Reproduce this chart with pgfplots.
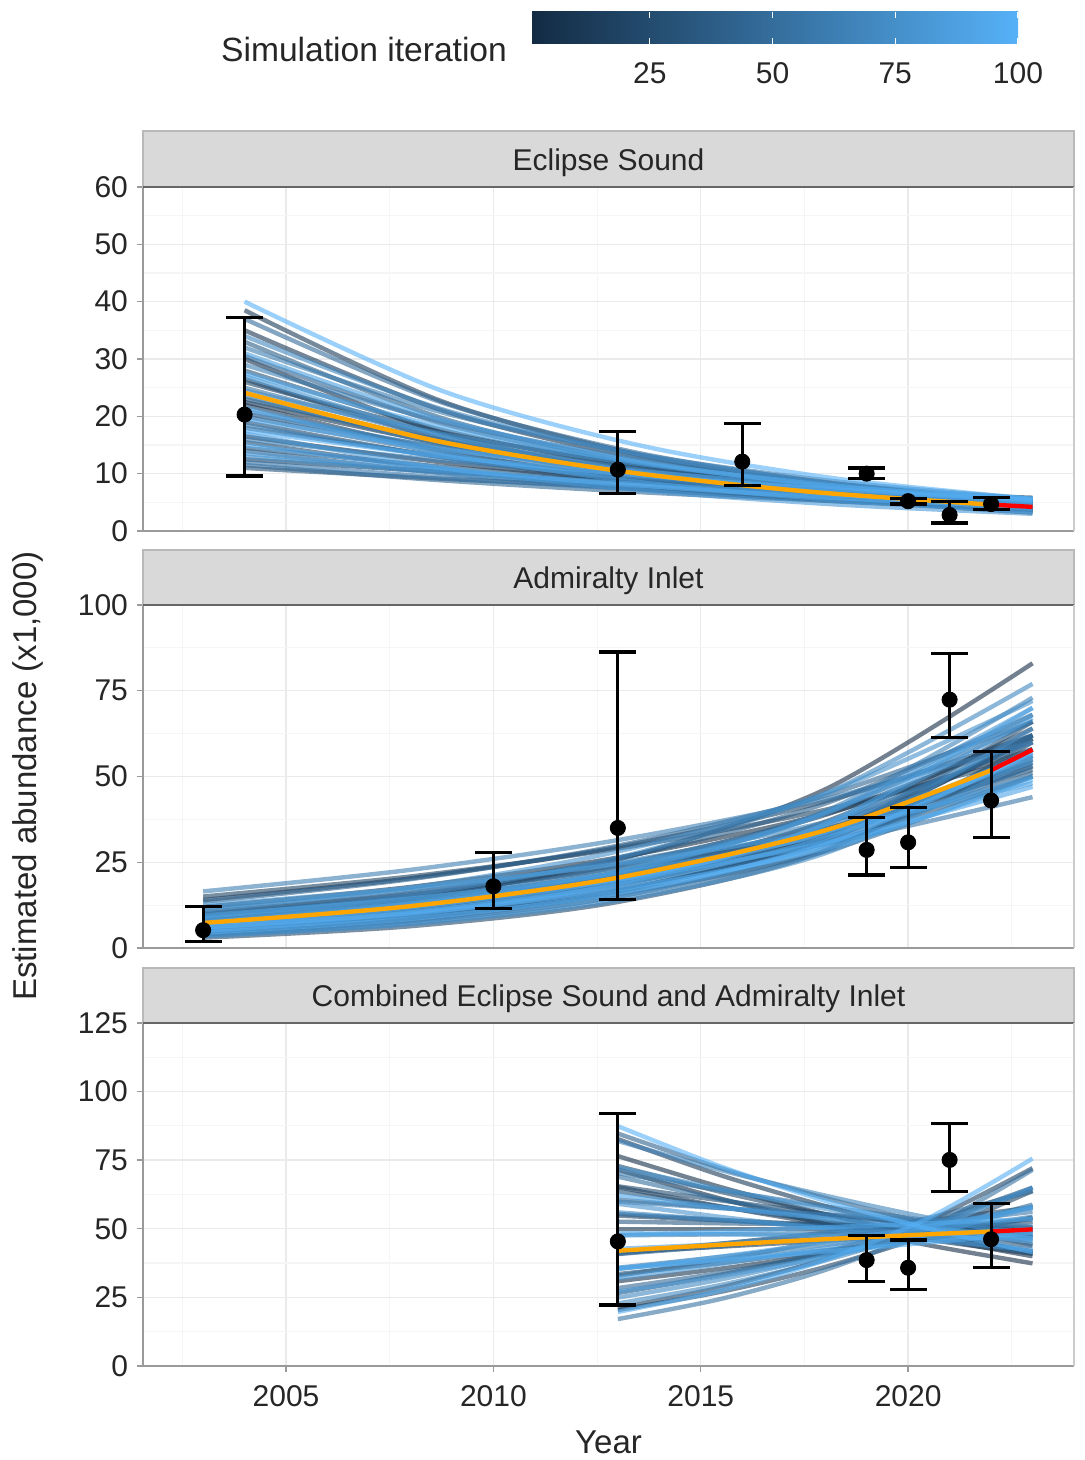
\documentclass[border=0pt]{standalone}
\usepackage{pgfplots}
\pgfplotsset{compat=1.18}
\usepackage{fontspec}
\setmainfont{Liberation Sans}
\definecolor{simlo}{HTML}{132B43}
\definecolor{simhi}{HTML}{56B1F7}
\definecolor{meanc}{HTML}{FFA500}
\definecolor{projc}{HTML}{FF0000}
\definecolor{stripfill}{HTML}{D9D9D9}
\definecolor{gmaj}{HTML}{EAEAEA}
\definecolor{gmin}{HTML}{F5F5F5}
\definecolor{axc}{HTML}{9A9A9A}
\pgfplotsset{
 sim/.style={no markers, smooth, line width=2.2pt, draw opacity=0.6, color=simhi!#1!simlo},
 meanline/.style={no markers, smooth, line width=2.2pt, color=meanc},
 projline/.style={no markers, line width=2.2pt, color=projc},
 obs/.style={only marks, mark=*, mark size=3.8pt, black, mark options={fill=black, draw=black},
   error bars/.cd, y dir=both, y explicit, error mark=none,
   error bar style={line width=1.5pt, black}},
 caps/.style={only marks, mark=-, mark size=9.25pt, black, line width=1.6pt, mark options={line width=1.6pt, black}},
 panel/.style={
   scale only axis, width=465.5pt,
   xmin=2001.55, xmax=2024, ymin=0,
   axis x line*=bottom, axis y line*=left,
   axis line style={axc, line width=0.8pt, -},
   xtick={2005,2010,2015,2020},
   minor xtick={2002.5,2007.5,2012.5,2017.5,2022.5},
   grid=both,
   major grid style={gmaj, line width=0.7pt},
   minor grid style={gmin, line width=0.6pt},
   tick align=outside, major tick length=3pt, minor tick length=0pt,
   tick style={axc, line width=0.7pt},
   tick label style={font=\fontsize{15}{15}\selectfont, text=black!85},
   /pgf/number format/assume math mode=true,
   /pgf/number format/1000 sep={},
   yticklabel style={xshift=-1pt},
 },
 upper/.style={xticklabels={}, xtick style={draw=none}},
}
% one simulated trajectory = iteration, then five values
\newcommand{\ES}[6]{\addplot[sim=#1] coordinates {(2004,#2)(2008.75,#3)(2013.5,#4)(2018.25,#5)(2023,#6)};}
\newcommand{\AI}[6]{\addplot[sim=#1] coordinates {(2003,#2)(2008,#3)(2013,#4)(2018,#5)(2023,#6)};}
\newcommand{\CB}[6]{\addplot[sim=#1] coordinates {(2013,#2)(2015.5,#3)(2018,#4)(2020.5,#5)(2023,#6)};}
\begin{document}
\begin{tikzpicture}
\useasboundingbox (0,0) rectangle (542pt,730pt);

% ---------- colour bar legend ----------
\shade[left color=simlo, right color=simhi] (266pt,708pt) rectangle (509pt,724pt);
\foreach \xx in {324.9,386.3,447.6,508.6}{
  \draw[white, line width=0.6pt] (\xx pt,708pt) -- ++(0,3.2pt);
  \draw[white, line width=0.6pt] (\xx pt,724pt) -- ++(0,-3.2pt);
}
\node[anchor=east, font=\fontsize{16.8}{16.8}\selectfont, text=black!85] at (257pt,705pt) {Simulation iteration};
\foreach \xx/\lab in {324.9/25,386.3/50,447.6/75,509/100}{
  \node[font=\fontsize{15}{15}\selectfont, text=black!85] at (\xx pt,693.5pt) {\lab};
}

% ---------- Eclipse Sound ----------
\begin{axis}[panel, upper, at={(71.5pt,464.5pt)}, anchor=south west, height=172pt,
  ymax=60, ytick={0,10,...,60}, minor ytick={5,15,...,55}]
\ES{1}{30}{17.15}{9.80}{5.60}{3.2}
\ES{3}{16.5}{11.99}{8.71}{6.33}{4.6}
\ES{6}{22.5}{15.29}{10.39}{7.06}{4.8}
\ES{8}{35}{21.07}{12.69}{7.64}{4.6}
\ES{10}{22}{13.99}{8.90}{5.66}{3.6}
\ES{12}{38.5}{22.64}{13.31}{7.82}{4.6}
\ES{15}{12.5}{10.32}{8.51}{7.03}{5.8}
\ES{17}{26}{17.22}{11.40}{7.55}{5.0}
\ES{19}{15.5}{10.76}{7.47}{5.19}{3.6}
\ES{21}{19}{12.87}{8.72}{5.91}{4.0}
\ES{24}{14.5}{11.22}{8.68}{6.72}{5.2}
\ES{26}{26.5}{16.09}{9.77}{5.93}{3.6}
\ES{28}{28}{17.63}{11.10}{6.99}{4.4}
\ES{30}{11}{9.12}{7.56}{6.27}{5.2}
\ES{33}{20.5}{14.55}{10.32}{7.33}{5.2}
\ES{35}{23}{15.86}{10.94}{7.54}{5.2}
\ES{37}{33}{19.71}{11.77}{7.03}{4.2}
\ES{39}{30.5}{18.79}{11.58}{7.14}{4.4}
\ES{42}{18}{13.07}{9.49}{6.89}{5.0}
\ES{44}{14}{10.10}{7.29}{5.26}{3.8}
\ES{46}{11.5}{8.83}{6.78}{5.21}{4.0}
\ES{48}{37}{22.43}{13.60}{8.25}{5.0}
\ES{51}{20}{13.70}{9.38}{6.42}{4.4}
\ES{53}{23.5}{15.10}{9.70}{6.23}{4.0}
\ES{55}{25}{16.37}{10.72}{7.02}{4.6}
\ES{57}{12}{9.34}{7.27}{5.66}{4.4}
\ES{60}{32}{20.70}{13.39}{8.66}{5.6}
\ES{62}{29}{19.05}{12.51}{8.22}{5.4}
\ES{64}{16}{12.31}{9.47}{7.28}{5.6}
\ES{66}{18.5}{12.92}{9.02}{6.30}{4.4}
\ES{69}{34}{21.26}{13.30}{8.32}{5.2}
\ES{71}{21}{14.52}{10.04}{6.94}{4.8}
\ES{73}{24.5}{16.94}{11.71}{8.10}{5.6}
\ES{75}{13}{10.13}{7.90}{6.16}{4.8}
\ES{78}{27}{16.65}{10.26}{6.33}{3.9}
\ES{80}{13.5}{10.54}{8.22}{6.41}{5.0}
\ES{82}{17}{11.02}{7.14}{4.63}{3.0}
\ES{84}{31}{19.45}{12.20}{7.65}{4.8}
\ES{87}{21.5}{13.56}{8.55}{5.39}{3.4}
\ES{89}{19.5}{14.28}{10.45}{7.65}{5.6}
\ES{91}{24}{15.52}{10.04}{6.49}{4.2}
\ES{93}{27.5}{18.14}{11.96}{7.89}{5.2}
\ES{96}{15}{10.91}{7.94}{5.77}{4.2}
\ES{98}{17.5}{13.04}{9.72}{7.25}{5.4}
\ES{100}{40}{24.47}{14.97}{9.16}{5.6}
\addplot[meanline] coordinates {(2004,24.1)(2008.5,15.9)(2013,10.5)(2017.5,6.93)(2022,4.6)};
\addplot[projline] coordinates {(2022,4.6)(2023,4.2)};
\addplot[obs] coordinates {
 (2004,20.3) += (0,16.9) -= (0,10.7)
 (2013,10.7) += (0,6.6) -= (0,4.1)
 (2016,12.1) += (0,6.6) -= (0,4.2)
 (2019,10.0) += (0,1.0) -= (0,0.9)
 (2020,5.2) += (0,0.5) -= (0,0.5)
 (2021,2.8) += (0,2.3) -= (0,1.4)
 (2022,4.7) += (0,1.1) -= (0,0.9)
};
\addplot[caps] coordinates {(2004,37.2)(2004,9.6)(2013,17.3)(2013,6.6)(2016,18.7)(2016,7.9)(2019,11.0)(2019,9.1)(2020,5.7)(2020,4.7)(2021,5.1)(2021,1.4)(2022,5.8)(2022,3.8)};
\end{axis}

% ---------- Admiralty Inlet ----------
\begin{axis}[panel, upper, at={(71.5pt,256pt)}, anchor=south west, height=171.5pt,
  ymax=100, ytick={0,25,50,75,100}, minor ytick={12.5,37.5,62.5,87.5}]
\AI{1}{8}{14.36}{25.77}{46.25}{83}
\AI{3}{12}{17.79}{26.38}{39.12}{58}
\AI{6}{8}{12.83}{20.59}{33.03}{53}
\AI{8}{4.5}{8.67}{16.70}{32.18}{62}
\AI{10}{9.5}{15.19}{24.27}{38.79}{62}
\AI{12}{5.5}{10.04}{18.32}{33.43}{61}
\AI{15}{7}{12.17}{21.17}{36.81}{64}
\AI{17}{15}{20.85}{28.98}{40.29}{56}
\AI{19}{14}{20.31}{29.46}{42.74}{62}
\AI{21}{3}{6.35}{13.42}{28.38}{60}
\AI{24}{9}{14.09}{22.05}{34.51}{54}
\AI{26}{4}{8.06}{16.25}{32.75}{66}
\AI{28}{6}{10.71}{19.13}{34.16}{61}
\AI{30}{10.5}{15.67}{23.37}{34.86}{52}
\AI{33}{7}{11.45}{18.71}{30.59}{50}
\AI{35}{5}{9.23}{17.03}{31.43}{58}
\AI{37}{7.5}{12.11}{19.56}{31.58}{51}
\AI{39}{10}{16.15}{26.08}{42.11}{68}
\AI{42}{13.5}{20.07}{29.85}{44.39}{66}
\AI{44}{6.5}{11.09}{18.91}{32.25}{55}
\AI{46}{5}{8.89}{15.81}{28.12}{50}
\AI{48}{4}{7.74}{14.97}{28.95}{56}
\AI{51}{8}{13.24}{21.91}{36.26}{60}
\AI{53}{8.5}{14.19}{23.69}{39.54}{66}
\AI{55}{10}{14.48}{20.98}{30.38}{44}
\AI{57}{5.5}{9.69}{17.07}{30.08}{53}
\AI{60}{6.5}{11.42}{20.07}{35.27}{62}
\AI{62}{16.5}{22.78}{31.46}{43.45}{60}
\AI{64}{6.5}{11.90}{21.78}{39.87}{73}
\AI{66}{11.5}{16.93}{24.92}{36.68}{54}
\AI{69}{9}{15.39}{26.32}{45.02}{77}
\AI{71}{3.5}{7.24}{14.97}{30.95}{64}
\AI{73}{3.5}{6.97}{13.87}{27.62}{55}
\AI{75}{11}{17.59}{28.14}{45.01}{72}
\AI{78}{7.5}{13.01}{22.58}{39.18}{68}
\AI{80}{7}{12.45}{22.14}{39.37}{70}
\AI{82}{5.5}{10.28}{19.20}{35.87}{67}
\AI{84}{12.5}{17.50}{24.49}{34.29}{48}
\AI{87}{9.5}{14.39}{21.79}{33.01}{50}
\AI{89}{5}{9.67}{18.71}{36.19}{70}
\AI{91}{8.5}{13.03}{19.99}{30.65}{47}
\AI{93}{6}{10.49}{18.33}{32.04}{56}
\AI{96}{6}{10.14}{17.15}{28.99}{49}
\AI{98}{7}{11.82}{19.97}{33.74}{57}
\AI{100}{4.5}{8.49}{16.02}{30.22}{57}
\addplot[meanline] coordinates {(2003,7.3)(2008,12.2)(2013,20.5)(2018,34.3)(2022,51.8)};
\addplot[projline] coordinates {(2022,51.8)(2023,57.8)};
\addplot[obs] coordinates {
 (2003,5.2) += (0,6.8) -= (0,3.3)
 (2010,18.0) += (0,9.8) -= (0,6.5)
 (2013,35.0) += (0,51.3) -= (0,20.8)
 (2019,28.6) += (0,9.5) -= (0,7.3)
 (2020,30.8) += (0,10.1) -= (0,7.4)
 (2021,72.4) += (0,13.4) -= (0,11.1)
 (2022,43.0) += (0,14.2) -= (0,10.8)
};
\addplot[caps] coordinates {(2003,12.0)(2003,1.9)(2010,27.8)(2010,11.5)(2013,86.3)(2013,14.2)(2019,38.1)(2019,21.3)(2020,40.9)(2020,23.4)(2021,85.8)(2021,61.3)(2022,57.2)(2022,32.2)};
\end{axis}

% ---------- Combined ----------
\begin{axis}[panel, at={(71.5pt,47pt)}, anchor=south west, height=171.5pt,
  ymax=125, ytick={0,25,...,125}, minor ytick={12.5,37.5,62.5,87.5,112.5},
  xticklabel style={yshift=-3pt}]
\CB{1}{71.6}{60.9}{51.8}{44}{37.4}
\CB{3}{76.5}{65.1}{55.3}{47}{40.0}
\CB{5}{50}{50}{50}{50}{50}
\CB{7}{30.9}{35.5}{40.9}{47}{54.1}
\CB{10}{65.2}{58.1}{51.7}{46}{40.9}
\CB{12}{82.7}{69.4}{58.3}{49}{41.2}
\CB{14}{41.5}{43.5}{45.7}{48}{50.4}
\CB{16}{21.1}{28.7}{39.0}{53}{72.1}
\CB{18}{20.4}{27.1}{36.1}{48}{63.8}
\CB{20}{54.8}{53.1}{51.5}{50}{48.5}
\CB{23}{72.9}{63.4}{55.2}{48}{41.8}
\CB{25}{65.5}{60.3}{55.4}{51}{46.9}
\CB{27}{40.9}{44.6}{48.6}{53}{57.8}
\CB{29}{63.7}{58.0}{52.7}{48}{43.7}
\CB{31}{33.5}{37.5}{42.0}{47}{52.6}
\CB{33}{26.6}{33.3}{41.6}{52}{65.0}
\CB{35}{52.6}{52.0}{51.5}{51}{50.5}
\CB{38}{55.4}{53.2}{51.0}{49}{47.0}
\CB{40}{84.7}{72.0}{61.2}{52}{44.2}
\CB{42}{40.8}{43.7}{46.7}{50}{53.5}
\CB{44}{28.4}{34.0}{40.8}{49}{58.8}
\CB{46}{32.9}{38.8}{45.8}{54}{63.7}
\CB{48}{60.6}{57.6}{54.7}{52}{49.4}
\CB{50}{69.0}{60.7}{53.4}{47}{41.4}
\CB{53}{17.1}{24.5}{35.0}{50}{71.5}
\CB{55}{70.3}{64.0}{58.2}{53}{48.2}
\CB{57}{41.3}{44.6}{48.1}{52}{56.2}
\CB{59}{35.8}{39.8}{44.1}{49}{54.4}
\CB{61}{47.6}{48.0}{48.5}{49}{49.5}
\CB{63}{59.9}{57.5}{55.2}{53}{50.9}
\CB{66}{82.0}{71.3}{62.1}{54}{47.0}
\CB{68}{22.8}{29.6}{38.5}{50}{65.0}
\CB{70}{24.9}{31.6}{40.2}{51}{64.8}
\CB{72}{56.0}{53.2}{50.5}{48}{45.6}
\CB{74}{35.5}{38.7}{42.2}{46}{50.1}
\CB{76}{59.1}{54.3}{50.0}{46}{42.3}
\CB{78}{72.3}{64.4}{57.3}{51}{45.4}
\CB{81}{27.1}{32.8}{39.7}{48}{58.1}
\CB{83}{32.0}{37.2}{43.1}{50}{58.0}
\CB{85}{48.4}{48.0}{47.5}{47}{46.5}
\CB{87}{35.3}{39.9}{45.1}{51}{57.6}
\CB{89}{42.7}{44.4}{46.2}{48}{49.9}
\CB{91}{62.2}{57.8}{53.8}{50}{46.5}
\CB{93}{47.6}{49.0}{50.5}{52}{53.6}
\CB{96}{35.7}{38.6}{41.7}{45}{48.6}
\CB{98}{19.7}{27.6}{38.6}{54}{75.6}
\CB{100}{87.4}{72.6}{60.2}{50}{41.5}
\addplot[meanline] coordinates {(2013,42.0)(2015.5,44.2)(2018,46.2)(2020.5,48.0)(2022,49.0)};
\addplot[projline] coordinates {(2022,49.0)(2023,49.8)};
\addplot[obs] coordinates {
 (2013,45.4) += (0,46.7) -= (0,23.2)
 (2019,38.6) += (0,8.9) -= (0,7.9)
 (2020,35.8) += (0,10.1) -= (0,7.9)
 (2021,75.1) += (0,13.3) -= (0,11.5)
 (2022,46.2) += (0,13.0) -= (0,10.2)
};
\addplot[caps] coordinates {(2013,92.1)(2013,22.2)(2019,47.5)(2019,30.7)(2020,45.9)(2020,27.9)(2021,88.4)(2021,63.6)(2022,59.2)(2022,36.0)};
\end{axis}

% ---------- strips and right borders ----------
\foreach \yb/\yt/\lab in {636.5/664.5/Eclipse Sound, 427.5/455/Admiralty Inlet, 218.5/246/Combined Eclipse Sound and Admiralty Inlet}{
  \draw[fill=stripfill, draw=gray!55, line width=0.6pt] (71.5pt,\yb pt) rectangle (537pt,\yt pt);
  \draw[gray!80!black, line width=0.9pt] (71.5pt,\yb pt) -- (537pt,\yb pt);
  \node[anchor=base, font=\fontsize{15}{15}\selectfont, text=black!85] at (304.25pt,{(\yb+8)*1pt}) {\lab};
}
\foreach \yb/\yt in {464.5/636.5, 256/427.5, 47/218.5}{
  \draw[gray!40, line width=0.7pt] (537pt,\yb pt) -- (537pt,\yt pt);
}

% ---------- axis titles ----------
\node[rotate=90, font=\fontsize{16.5}{16.5}\selectfont, text=black!85] at (14pt,342pt) {Estimated abundance (x1,000)};
\node[font=\fontsize{16.5}{16.5}\selectfont, text=black!85] at (304.25pt,9pt) {Year};
\end{tikzpicture}
\end{document}
